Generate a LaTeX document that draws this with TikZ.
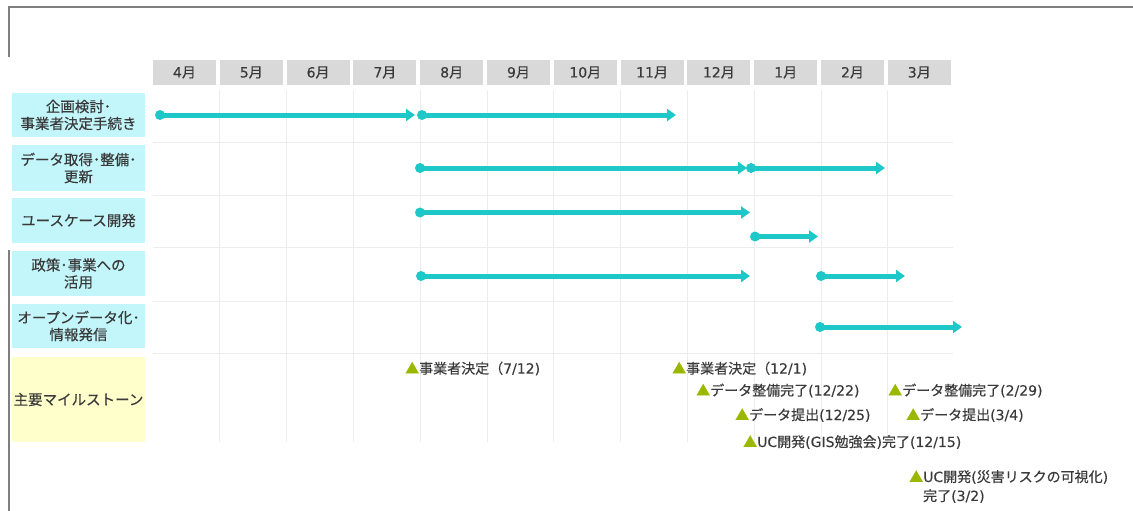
\documentclass[tikz,border=0pt]{standalone}
\usepackage{fontspec}
\setmainfont{Noto Sans CJK JP}[FakeBold=0.4]
\newfontfamily\latinfont{DejaVu Sans}[FakeBold=0.3]
\usetikzlibrary{arrows.meta}
\definecolor{barcyan}{HTML}{1EC8C8}
\definecolor{labelcyan}{HTML}{C2F6FA}
\definecolor{mileyellow}{HTML}{FFFFCC}
\definecolor{headgray}{HTML}{D9D9D9}
\definecolor{gridgray}{HTML}{EDEDED}
\definecolor{framegray}{HTML}{7F7F7F}
\definecolor{textgray}{HTML}{3A3A3A}
\definecolor{trigreen}{HTML}{9AB800}
\newcommand{\tri}{\textcolor{trigreen}{▲}}
\newcommand{\latn}[1]{{\latinfont #1}}
\tikzset{
    monthbox/.style={fill=headgray, minimum width=63pt, minimum height=25pt, inner sep=0pt, font=\fontsize{14}{16}\selectfont},
    rowlabel/.style={fill=labelcyan, minimum width=133pt, inner sep=0pt, align=center, font=\fontsize{14.5}{17}\selectfont},
    milestone/.style={anchor=west, inner sep=0pt},
    barline/.style={draw=barcyan, line width=5pt, -{Triangle[length=9pt,width=12pt]}},
    bardot/.style={circle, fill=barcyan, inner sep=0pt, minimum size=10pt},
    gridline/.style={draw=gridgray, line width=0.8pt},
}
\begin{document}
\begin{tikzpicture}[x=1pt, y=-1pt, every node/.style={font=\fontsize{14}{16}\selectfont, text=textgray}]
    \useasboundingbox (0,0) rectangle (1133,511);
    \draw[framegray, line width=2pt] (9,57) -- (9,7.5) -- (1133,7.5);
    \draw[framegray, line width=1.5pt] (9,250) -- (9,511);

    \foreach \k in {1,...,11}
        \draw[gridline] ({153+66.8*\k},90) -- ({153+66.8*\k},442);
    \foreach \y in {142,195,247,301,353}
        \draw[gridline] (153,\y) -- (953,\y);

    \foreach \m [count=\i from 0] in {4,5,6,7,8,9,10,11,12,1,2,3}
        \node[monthbox] (month\i) at ({184.5+66.8*\i},72.5) {\latn{\m}月};

    \node[rowlabel, minimum height=44pt] (plan) at (78.5,115) {企画検討･\\事業者決定手続き};
    \node[rowlabel, minimum height=46pt] (data) at (78.5,168) {データ取得･整備･\\更新};
    \node[rowlabel, minimum height=45pt] (usecase) at (78.5,220.5) {ユースケース開発};
    \node[rowlabel, minimum height=45pt] (policy) at (78.5,273.5) {政策･事業への\\活用};
    \node[rowlabel, minimum height=44pt] (opendata) at (78.5,326) {オープンデータ化･\\情報発信};
    \node[rowlabel, fill=mileyellow, minimum height=85pt] (milestones) at (78.5,399.5) {主要マイルストーン};

    \node[bardot] (plana) at (160,115) {};
    \coordinate (planaend) at (415,115);
    \draw[barline] (plana.center) -- (planaend);
    \node[bardot] (planb) at (422,115) {};
    \coordinate (planbend) at (676,115);
    \draw[barline] (planb.center) -- (planbend);

    \node[bardot] (dataa) at (420,168) {};
    \coordinate (dataaend) at (747,168);
    \draw[barline] (dataa.center) -- (dataaend);
    \node[bardot] (datab) at (751,168) {};
    \coordinate (databend) at (885,168);
    \draw[barline] (datab.center) -- (databend);

    \node[bardot] (usecasea) at (420,212.5) {};
    \coordinate (usecaseaend) at (750,212.5);
    \draw[barline] (usecasea.center) -- (usecaseaend);
    \node[bardot] (usecaseb) at (755,236.5) {};
    \coordinate (usecasebend) at (818,236.5);
    \draw[barline] (usecaseb.center) -- (usecasebend);

    \node[bardot] (policya) at (421,276) {};
    \coordinate (policyaend) at (750,276);
    \draw[barline] (policya.center) -- (policyaend);
    \node[bardot] (policyb) at (821,276) {};
    \coordinate (policybend) at (905,276);
    \draw[barline] (policyb.center) -- (policybend);

    \node[bardot] (opendataa) at (820,327) {};
    \coordinate (opendataaend) at (962,327);
    \draw[barline] (opendataa.center) -- (opendataaend);

    \node[milestone] (contracta) at (405,368.5) {\tri 事業者決定（\latn{7/12)}};
    \node[milestone] (contractb) at (672,368.5) {\tri 事業者決定（\latn{12/1)}};
    \node[milestone] (prepa) at (696,390.5) {\tri データ整備完了\latn{(12/22)}};
    \node[milestone] (prepb) at (888,390.5) {\tri データ整備完了\latn{(2/29)}};
    \node[milestone] (submita) at (735,415) {\tri データ提出\latn{(12/25)}};
    \node[milestone] (submitb) at (906,415) {\tri データ提出\latn{(3/4)}};
    \node[milestone] (ucdeva) at (743,442) {\tri \latn{UC}開発\latn{(GIS}勉強会\latn{)}完了\latn{(12/15)}};
    \node[milestone, align=left] (ucdevb) at (909,486.5) {\tri \latn{UC}開発\latn{(}災害リスクの可視化\latn{)}\\[3pt]\phantom{\tri}完了\latn{(3/2)}};
\end{tikzpicture}
\end{document}
